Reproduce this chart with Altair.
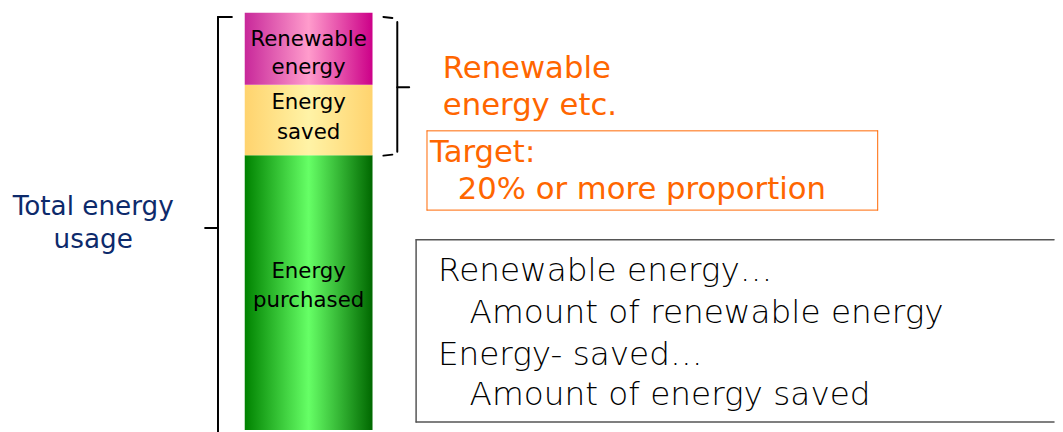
import altair as alt
import pandas as pd

# ---- data ----
segments = ["Energy purchased", "Energy saved", "Renewable energy"]
amounts = [38.6, 9.9, 10.1]
bar_labels = [["Energy", "purchased"], ["Energy", "saved"], ["Renewable", "energy"]]
gradients = [
    ["#008200", "#66ff66", "#006800"],
    ["#ffd36e", "#fff3a6", "#ffd36e"],
    ["#c8289a", "#ff9ccc", "#cc0088"],
]
left_label = ["Total energy", "usage"]
orange_head = ["Renewable", "energy etc."]
target_lines = ["Target:", "20% or more proportion"]
legend_lines = ["Renewable energy…", "Amount of renewable energy", "Energy- saved…", "Amount of energy saved"]

ends = pd.Series(amounts).cumsum()
df = pd.DataFrame({"segment": segments, "amount": amounts,
                   "start": ends - pd.Series(amounts), "end": ends})

W, H = 1057, 424
OX, OY = 6, 8  # page margin offset
def px(v): return v - OX
def py(v): return v - OY

yscale = alt.Scale(domain=[0, 59], nice=False, zero=False)

layers = []
for seg, grad in zip(segments, gradients):
    g = {"gradient": "linear", "x1": 0, "x2": 1, "y1": 0, "y2": 0,
         "stops": [{"offset": 0, "color": grad[0]},
                   {"offset": 0.5, "color": grad[1]},
                   {"offset": 1, "color": grad[2]}]}
    layers.append(
        alt.Chart(df).transform_filter(alt.datum.segment == seg)
        .mark_rect(color=g, clip=True)
        .encode(x=alt.value(px(245)), x2=alt.value(px(374)),
                y=alt.Y("end:Q", scale=yscale, axis=None),
                y2="start:Q")
    )

base = alt.Chart(pd.DataFrame({"a": [0]}))

def text(s, x, y, size, color, align="center", font="DejaVu Sans", weight="normal"):
    return base.mark_text(text=s, fontSize=size, color=color, align=align,
                          baseline="middle", font=font, fontWeight=weight).encode(
        x=alt.value(px(x)), y=alt.value(py(y)))

def rule(x1, y1, x2, y2, color="black", w=2):
    return base.mark_rule(color=color, strokeWidth=w, strokeCap="round").encode(
        x=alt.value(px(x1)), x2=alt.value(px(x2)), y=alt.value(py(y1)), y2=alt.value(py(y2)))

# bar labels
label_y = [[273, 302], [102, 132], [38, 67]]
for lines, ys in zip(bar_labels, label_y):
    for s, yy in zip(lines, ys):
        layers.append(text(s, 309.5, yy, 21.5, "black"))

# left brace
layers += [rule(218, 15, 232, 15), rule(218, 15, 218, 440), rule(205, 228, 218, 228)]
# right brace
layers += [rule(385, 15, 394, 16), rule(399, 20, 399, 151), rule(399, 86, 411, 86), rule(385, 155, 394, 154)]

# left text
layers.append(text(left_label[0], 92, 207, 26.5, "#0d2a6b"))
layers.append(text(left_label[1], 92, 240, 26.5, "#0d2a6b"))

# orange heading
layers.append(text(orange_head[0], 445, 68, 31, "#ff6600", align="left"))
layers.append(text(orange_head[1], 445, 105, 31, "#ff6600", align="left"))

# orange target box
layers += [rule(429, 130, 884, 130, "#ff6600", 1), rule(429, 210, 884, 210, "#ff6600", 1),
           rule(429, 130, 429, 210, "#ff6600", 1), rule(884, 130, 884, 210, "#ff6600", 1)]
layers.append(text(target_lines[0], 432, 152, 31, "#ff6600", align="left"))
layers.append(text(target_lines[1], 460, 190, 31, "#ff6600", align="left"))

# legend box
layers += [rule(418, 240, 1062, 240, "#555555", 1.5), rule(418, 424, 1062, 424, "#555555", 1.5),
           rule(418, 240, 418, 424, "#555555", 1.5)]
lx = [440, 472, 440, 472]
ly = [272, 314, 356, 397]
for s, xx, yy in zip(legend_lines, lx, ly):
    layers.append(text(s, xx, yy, 33, "black", align="left", weight=200))

chart = alt.layer(*layers).properties(
    width=W, height=H, padding=0, autosize=alt.AutoSizeParams(type="none"),
    view=alt.ViewBackground(stroke="transparent", strokeWidth=0)
).configure_view(stroke="transparent", strokeWidth=0).configure(background="white")

chart.save("out.html", embed_options={"renderer": "svg", "actions": False})
